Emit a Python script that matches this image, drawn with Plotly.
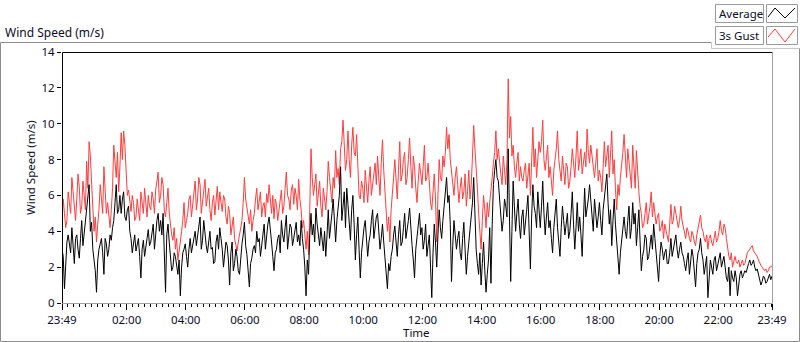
import plotly.graph_objects as go

# ---- data: samples every 2.5 min from 23:49 to 23:49 next day ----
# *_on: values on the 5-minute marks; *_mid: values halfway between consecutive marks
step_min = 2.5
gust_on = [
    4.5, 5.0, 4.6, 5.6, 7.0, 5.3, 5.8, 6.5, 5.4, 6.0, 7.9, 9.0, 6.7, 4.0, 3.4, 5.2, 5.8, 7.6, 5.0, 4.6,
    5.2, 8.8, 7.0, 6.2, 9.5, 9.6, 7.4, 6.3, 5.1, 5.6, 4.8, 5.3, 6.2, 5.0, 5.6, 6.0, 5.2, 5.8, 6.3, 7.3,
    6.0, 6.6, 4.8, 6.4, 4.2, 3.5, 3.0, 2.4, 3.4, 4.6, 4.2, 5.0, 6.0, 5.4, 6.8, 5.8, 6.6, 5.6,
    6.9, 6.0, 5.2, 5.6, 4.9, 6.5, 6.2, 5.1, 5.8, 4.4, 5.0, 4.3, 3.6, 2.9, 3.8, 4.6, 7.0, 5.4, 4.4, 4.0,
    5.0, 6.4, 5.6, 4.8, 5.6, 6.1, 6.6, 5.0, 4.7, 5.5, 5.2, 6.3, 5.4, 7.3, 5.8, 6.3, 5.5, 6.0, 6.9, 5.2,
    4.6, 3.0, 2.7, 8.6, 6.0, 7.2, 6.0, 5.4, 6.4, 5.2, 7.9, 6.3, 7.0, 8.5, 7.5, 8.6, 10.2, 7.4,
    9.6, 7.0, 9.8, 8.2, 7.0, 5.8, 6.4, 7.4, 5.6, 7.6, 6.6, 7.8, 8.2, 6.0, 9.1, 6.2, 4.0, 3.4, 6.4, 8.0,
    5.8, 9.0, 7.2, 8.4, 7.0, 9.2, 6.4, 7.6, 5.6, 7.8, 6.6, 8.8, 7.0, 6.4, 5.2, 7.2, 3.4, 8.0, 6.8, 7.6,
    9.8, 9.4, 7.2, 6.0, 7.6, 5.6, 7.0, 6.2, 5.4, 7.4, 6.6, 9.9, 7.6, 5.0, 3.0, 6.0, 4.2, 4.8,
    6.2, 7.8, 9.6, 8.6, 7.2, 8.2, 6.6, 12.5, 10.4, 8.8, 7.0, 8.4, 7.6, 6.8, 7.8, 7.0, 6.0, 9.8, 8.6, 7.8,
    8.4, 10.2, 7.4, 8.8, 7.6, 6.0, 8.0, 9.6, 7.4, 8.2, 6.6, 7.6, 6.8, 8.6, 7.0, 9.6, 8.0, 7.2, 8.4, 9.7,
    7.8, 8.2, 7.0, 8.6, 7.4, 6.2, 9.0, 8.2, 7.0, 9.6, 8.0, 5.2, 6.0, 7.6, 9.4, 7.0, 7.8, 6.4,
    7.6, 8.5, 6.2, 5.0, 4.4, 5.6, 4.8, 6.2, 5.6, 4.4, 5.0, 4.2, 3.6, 4.0, 3.4, 5.5, 4.6, 5.0, 4.2, 5.4,
    4.2, 3.6, 4.0, 3.4, 3.8, 3.2, 4.2, 4.9, 4.0, 3.4, 3.0, 3.8, 3.2, 4.0, 3.6, 4.6, 3.8, 4.2, 3.0, 2.4,
    2.0, 2.6, 2.2, 2.0, 2.4, 2.2, 2.8, 3.0, 3.2, 2.8, 2.6, 2.2, 2.0, 1.8, 1.7, 2.0, 2.1,
]
gust_mid = [
    5.8, 4.2, 6.2, 5.0, 6.0, 4.6, 7.2, 5.0, 6.8, 5.2, 6.4, 8.2, 5.2, 4.8, 4.4, 6.6, 5.0, 6.0, 5.6, 4.2,
    6.4, 7.6, 8.4, 7.6, 8.0, 8.8, 6.0, 5.6, 6.0, 4.6, 5.8, 4.6, 5.6, 6.4, 4.8, 5.4, 6.2, 5.0, 6.8, 5.6,
    7.0, 5.2, 5.6, 5.0, 3.8, 4.2, 3.6, 2.8, 4.0, 5.6, 4.6, 5.8, 4.8, 6.2, 5.2, 7.0, 5.0, 6.0,
    5.4, 6.4, 4.6, 6.0, 5.8, 5.2, 5.6, 6.0, 4.8, 5.4, 3.8, 4.8, 3.2, 3.4, 4.4, 5.6, 5.8, 4.8, 5.2, 4.6,
    5.8, 5.2, 6.2, 5.4, 4.8, 5.6, 5.6, 6.0, 5.8, 4.6, 5.8, 5.0, 6.4, 6.0, 5.2, 6.6, 6.4, 5.2, 5.8, 4.2,
    3.8, 4.0, 5.2, 7.0, 6.6, 5.4, 6.8, 4.8, 5.6, 6.2, 7.0, 5.6, 6.4, 7.0, 6.6, 9.0, 8.2, 8.0,
    8.0, 8.8, 8.4, 9.4, 6.0, 6.8, 5.6, 6.4, 6.8, 6.0, 7.2, 6.6, 7.0, 7.8, 7.4, 5.0, 4.8, 5.2, 7.0, 6.6,
    7.4, 6.8, 8.0, 6.6, 8.0, 7.6, 8.2, 6.4, 6.8, 7.2, 7.6, 6.8, 7.8, 5.6, 6.6, 5.8, 6.0, 7.0, 8.2, 8.4,
    8.6, 8.0, 6.4, 7.0, 6.6, 6.4, 5.8, 7.2, 6.2, 5.8, 8.2, 8.6, 6.4, 4.2, 4.6, 5.2, 5.6, 5.6,
    7.0, 8.4, 8.0, 7.6, 6.6, 7.4, 8.0, 9.2, 8.2, 7.6, 7.8, 6.8, 7.0, 7.4, 6.4, 7.8, 8.0, 7.6, 7.0, 9.0,
    9.0, 8.0, 8.4, 7.0, 6.8, 7.4, 8.6, 8.0, 6.8, 7.2, 7.8, 6.4, 7.6, 7.8, 8.2, 7.4, 8.6, 7.8, 7.6, 8.4,
    8.8, 7.4, 7.8, 6.8, 7.0, 7.6, 7.6, 8.8, 8.2, 7.2, 6.4, 6.6, 7.0, 8.4, 8.0, 8.6, 6.8, 8.8,
    6.4, 7.2, 5.4, 4.2, 5.0, 4.4, 5.4, 4.8, 5.0, 4.8, 4.0, 4.6, 4.4, 3.8, 4.4, 4.4, 5.4, 4.4, 4.6, 4.6,
    3.8, 4.2, 3.6, 4.0, 3.4, 3.8, 4.6, 4.2, 3.6, 3.8, 3.6, 3.4, 3.6, 3.4, 4.0, 4.0, 4.4, 3.6, 2.6, 2.8,
    2.4, 2.3, 2.4, 2.2, 2.1, 2.5, 2.9, 3.1, 2.9, 2.7, 2.4, 2.1, 1.9, 1.9, 1.8, 2.0,
]
average_on = [
    3.0, 0.8, 3.4, 3.2, 4.2, 2.2, 3.8, 2.5, 4.6, 3.9, 5.0, 6.6, 4.5, 2.3, 0.6, 3.0, 3.6, 1.6, 3.3, 3.0,
    3.5, 4.6, 6.6, 5.2, 5.0, 6.2, 4.6, 5.4, 3.6, 3.2, 2.9, 3.6, 1.4, 3.5, 3.0, 4.1, 3.4, 4.4, 3.9, 5.0,
    4.6, 5.0, 0.6, 4.4, 2.6, 2.0, 2.6, 1.6, 0.4, 2.8, 3.3, 2.0, 3.6, 3.2, 4.0, 3.8, 4.8, 3.5,
    3.6, 2.8, 4.0, 3.1, 2.3, 3.8, 4.2, 3.0, 2.6, 3.2, 1.0, 3.4, 2.2, 2.6, 1.6, 3.3, 4.5, 2.7, 0.9, 2.5,
    3.2, 4.0, 3.6, 3.2, 4.4, 4.0, 4.8, 3.4, 1.8, 3.0, 3.8, 4.6, 3.4, 4.9, 3.7, 4.2, 3.6, 4.5, 3.8, 4.6,
    3.0, 0.4, 1.6, 5.0, 4.4, 5.3, 3.8, 4.2, 2.9, 2.6, 5.2, 4.6, 5.8, 3.4, 5.2, 7.6, 5.4, 4.2,
    5.5, 3.5, 6.0, 2.4, 4.8, 1.4, 3.6, 4.6, 2.6, 3.8, 5.2, 4.2, 5.0, 3.0, 4.4, 2.4, 0.8, 1.8, 3.0, 4.3,
    2.6, 4.6, 3.4, 5.0, 4.0, 5.3, 3.2, 1.4, 3.6, 5.0, 4.2, 3.5, 2.6, 3.8, 0.3, 4.4, 2.0, 5.2, 3.6, 5.6,
    7.0, 6.0, 1.2, 4.6, 3.0, 4.0, 2.4, 4.5, 1.6, 3.4, 4.8, 7.0, 3.0, 1.6, 1.0, 3.4, 0.6, 2.4,
    1.1, 6.6, 8.0, 6.8, 5.0, 4.6, 5.4, 8.6, 1.2, 6.8, 4.0, 5.8, 3.6, 5.2, 4.4, 6.0, 1.9, 6.6, 5.0, 6.2,
    4.2, 6.8, 3.8, 5.6, 4.6, 2.8, 5.0, 4.2, 2.6, 5.4, 3.8, 5.0, 4.0, 6.2, 3.0, 5.6, 4.8, 2.6, 6.4, 5.2,
    6.6, 4.8, 5.8, 4.2, 5.6, 3.8, 6.0, 7.2, 4.4, 3.2, 5.8, 3.4, 1.6, 3.6, 4.8, 3.6, 5.4, 4.2,
    4.4, 3.2, 5.2, 1.8, 3.0, 3.6, 2.6, 3.8, 4.4, 2.8, 1.2, 3.4, 2.4, 3.0, 2.2, 3.6, 3.0, 3.8, 2.5, 3.4,
    2.6, 1.8, 2.8, 2.2, 2.6, 0.9, 2.8, 3.6, 2.4, 2.0, 0.3, 2.4, 1.6, 2.6, 2.2, 2.8, 2.4, 2.0, 1.2, 0.4,
    1.4, 1.8, 0.4, 1.6, 1.4, 1.8, 2.0, 2.4, 2.2, 2.0, 1.9, 1.4, 1.2, 1.4, 1.2, 1.6, 1.5,
]
average_mid = [
    2.6, 2.2, 3.8, 2.8, 3.4, 3.6, 3.0, 3.6, 3.2, 4.4, 5.8, 4.0, 3.0, 1.8, 2.4, 3.4, 2.8, 3.6, 2.6, 3.8,
    4.2, 5.6, 5.0, 6.0, 5.8, 4.8, 5.2, 4.0, 2.8, 3.8, 3.4, 2.6, 3.0, 2.6, 3.6, 3.2, 3.8, 3.0, 4.6, 4.0,
    3.8, 3.2, 3.8, 3.4, 1.8, 2.8, 2.2, 2.4, 2.0, 3.0, 2.6, 3.0, 2.8, 3.8, 3.2, 4.2, 3.0, 4.6,
    3.2, 3.6, 3.0, 2.2, 3.4, 3.0, 3.6, 2.0, 3.4, 2.4, 2.8, 1.8, 3.0, 1.8, 2.6, 3.8, 3.2, 1.8, 2.2, 3.0,
    2.8, 3.4, 2.6, 3.8, 3.0, 4.4, 3.8, 2.6, 2.8, 3.6, 2.8, 3.8, 4.2, 3.0, 4.4, 3.2, 4.0, 3.4, 3.2, 3.6,
    2.0, 2.4, 3.8, 3.8, 3.4, 4.4, 3.2, 3.4, 4.0, 3.8, 3.6, 5.0, 4.2, 4.6, 6.0, 4.6, 6.2, 6.4,
    4.6, 5.2, 4.4, 3.8, 3.0, 2.8, 4.2, 3.2, 3.4, 4.6, 3.6, 4.8, 3.8, 3.6, 3.4, 1.6, 2.2, 2.6, 3.8, 3.4,
    3.8, 3.2, 4.2, 3.6, 4.6, 4.0, 2.4, 3.0, 4.2, 3.8, 3.0, 4.4, 3.2, 2.0, 2.8, 3.4, 3.8, 4.2, 4.6, 6.2,
    5.6, 4.4, 3.2, 3.8, 3.6, 2.8, 3.6, 3.0, 2.6, 4.2, 5.6, 4.6, 2.2, 2.8, 2.2, 1.8, 1.6, 4.2,
    4.4, 7.4, 7.0, 5.8, 4.0, 5.8, 4.8, 4.6, 4.0, 5.4, 5.0, 4.4, 4.8, 3.8, 5.2, 4.0, 4.8, 5.4, 4.2, 5.2,
    5.4, 5.0, 4.8, 4.2, 3.6, 4.2, 5.8, 3.4, 4.2, 4.6, 4.4, 3.6, 5.0, 4.4, 4.2, 4.0, 3.8, 4.6, 4.8, 5.8,
    5.6, 4.0, 5.0, 4.8, 4.6, 5.2, 6.4, 5.6, 5.2, 4.6, 4.4, 2.6, 2.8, 4.2, 4.0, 4.6, 3.6, 5.6,
    5.0, 4.2, 3.4, 2.6, 3.8, 2.4, 3.2, 3.0, 3.6, 2.2, 2.6, 3.0, 2.8, 2.2, 2.8, 2.6, 3.4, 3.0, 3.0, 2.8,
    2.2, 2.4, 1.6, 3.0, 1.8, 2.2, 3.0, 2.8, 1.6, 2.6, 1.8, 2.0, 2.4, 1.8, 2.6, 2.0, 2.6, 1.4, 2.0, 1.8,
    1.2, 1.4, 1.2, 1.8, 1.6, 1.7, 2.2, 2.1, 2.4, 1.8, 1.6, 1.0, 1.5, 1.1, 1.4, 1.3,
]
tick_labels = ["23:49", "02:00", "04:00", "06:00", "08:00", "10:00", "12:00",
               "14:00", "16:00", "18:00", "20:00", "22:00", "23:49"]
tick_minutes = [0, 131, 251, 371, 491, 611, 731, 851, 971, 1091, 1211, 1331, 1440]
y_ticks = [0, 2, 4, 6, 8, 10, 12, 14]


def merge(on, mid):
    out = []
    for k, v in enumerate(on):
        out.append(v)
        if k < len(mid):
            out.append(mid[k])
    return out


gust = merge(gust_on, gust_mid)
average = merge(average_on, average_mid)
x_gust = [i * step_min for i in range(len(gust))]
x_avg = [i * step_min for i in range(len(average))]

FONT = "Noto Sans, Liberation Sans, sans-serif"
TXT = "#0c0c2a"
W, H = 800, 342
L, R, T, B = 62, 28, 52, 39
PW, PH = W - L - R, H - T - B


def px(x):
    return (x - L) / PW


def py(y):
    return (H - B - y) / PH


fig = go.Figure()
fig.add_trace(go.Scatter(x=x_gust, y=gust, mode="lines", name="3s Gust",
                         line=dict(color="#ff3c3c", width=1), showlegend=False))
fig.add_trace(go.Scatter(x=x_avg, y=average, mode="lines", name="Average",
                         line=dict(color="#000000", width=1), showlegend=False))

shapes = []


def line(x0, y0, x1, y1, color, width=1):
    shapes.append(dict(type="line", xref="paper", yref="paper",
                       x0=px(x0), y0=py(y0), x1=px(x1), y1=py(y1),
                       line=dict(color=color, width=width), layer="above"))


# outer panel frame
line(0.5, 42.5, 711.5, 42.5, "#8c8c8c")
line(711.5, 42.5, 711.5, 48.5, "#c8c8c8")
line(711.5, 48.5, 799.5, 48.5, "#c8c8c8")
line(0.5, 42.5, 0.5, 341.5, "#8c8c8c")
line(0.5, 341.5, 799.5, 341.5, "#8c8c8c")
line(799.5, 48.5, 799.5, 341.5, "#8c8c8c")
# plot area frame
line(62.5, 52.5, 772.5, 52.5, "#000000")
line(62.5, 52.5, 62.5, 303.5, "#000000")
line(772.5, 52.5, 772.5, 303.5, "#a0a0a0")
line(62.5, 303.5, 772.5, 303.5, "#a0a0a0")

# legend boxes
for (y0, y1) in [(4.5, 22.5), (26.5, 44.5)]:
    shapes.append(dict(type="rect", xref="paper", yref="paper",
                       x0=px(715.5), y0=py(y0), x1=px(763.5), y1=py(y1),
                       line=dict(color="#9a9a9a", width=1), fillcolor="white", layer="above"))
    shapes.append(dict(type="rect", xref="paper", yref="paper",
                       x0=px(766.5), y0=py(y0), x1=px(797.5), y1=py(y1),
                       line=dict(color="#9a9a9a", width=1), fillcolor="white", layer="above"))


def zig(pts, color):
    path = "M " + " L ".join(f"{px(a)},{py(b)}" for a, b in pts)
    shapes.append(dict(type="path", xref="paper", yref="paper", path=path,
                       line=dict(color=color, width=1), layer="above"))


zig([(768, 17), (775, 8), (785, 18), (795, 8)], "#000000")
zig([(768, 37), (775, 29), (785, 42), (795, 29)], "#ff3c3c")

annotations = [
    dict(text="Wind Speed (m/s)", xref="paper", yref="paper", x=px(3), y=py(32),
         xanchor="left", yanchor="middle", showarrow=False,
         font=dict(family=FONT, size=12, color=TXT)),
    dict(text="Average", xref="paper", yref="paper", x=px(717), y=py(13.5),
         xanchor="left", yanchor="middle", showarrow=False,
         font=dict(family=FONT, size=11.5, color=TXT)),
    dict(text="3s Gust", xref="paper", yref="paper", x=px(717), y=py(35.5),
         xanchor="left", yanchor="middle", showarrow=False,
         font=dict(family=FONT, size=11.5, color=TXT)),
    dict(text="Wind Speed (m/s)", xref="paper", yref="paper", x=px(30), y=py(168),
         xanchor="center", yanchor="middle", showarrow=False, textangle=-90,
         font=dict(family=FONT, size=11.5, color=TXT)),
    dict(text="Time", xref="paper", yref="paper", x=px(416), y=py(332),
         xanchor="center", yanchor="middle", showarrow=False,
         font=dict(family=FONT, size=11.5, color=TXT)),
]

fig.update_layout(
    width=W, height=H,
    margin=dict(l=L, r=R, t=T, b=B),
    paper_bgcolor="white", plot_bgcolor="white",
    shapes=shapes, annotations=annotations,
    showlegend=False,
    xaxis=dict(range=[0, 1440], tickmode="array", tickvals=tick_minutes, ticktext=tick_labels,
               ticks="outside", ticklen=6, tickcolor="#000000", tickwidth=1,
               showgrid=False, zeroline=False, showline=False,
               tickfont=dict(family=FONT, size=11.5, color=TXT),
               minor=dict(tickmode="linear", tick0=131, dtick=12, ticks="outside",
                          ticklen=3, tickcolor="#000000", tickwidth=1, showgrid=False)),
    yaxis=dict(range=[0, 14], tickmode="array", tickvals=y_ticks,
               ticks="outside", ticklen=4, tickcolor="#000000", tickwidth=1,
               showgrid=False, zeroline=False, showline=False,
               tickfont=dict(family=FONT, size=11.5, color=TXT)),
)

fig.write_html("out.html", config={"displayModeBar": False},
               post_script="document.body.style.margin='0';document.body.style.padding='0';")
